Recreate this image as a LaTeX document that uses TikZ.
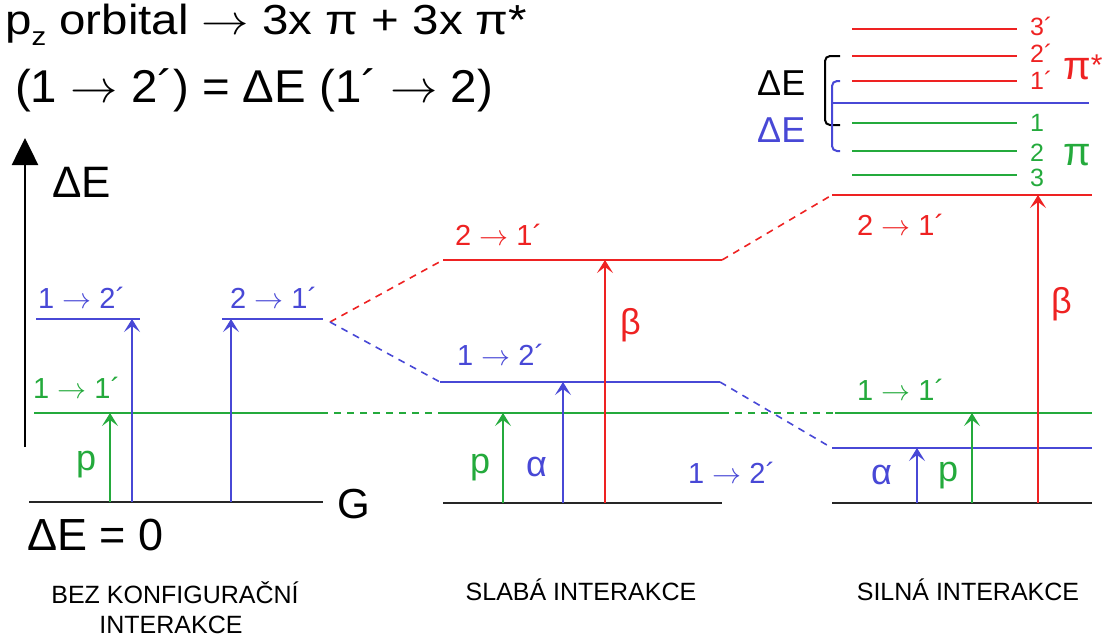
\RequirePackage{fix-cm}
\documentclass[tikz,border=0pt]{standalone}
\usepackage{fontspec}
\setmainfont{Liberation Sans}
\usetikzlibrary{arrows.meta}
\definecolor{cred}{RGB}{238,34,34}
\definecolor{cblue}{RGB}{72,72,214}
\definecolor{cgreen}{RGB}{36,170,60}
\newcommand{\fsz}[1]{\fontsize{#1}{#1}\selectfont}
\newcommand{\ar}{$\rightarrow$}
\begin{document}
\begin{tikzpicture}[x=1pt,y=-1pt,
  lvl/.style={line width=2.2pt},
  gnd/.style={line width=2.8pt,black!85},
  dsh/.style={line width=1.6pt,dash pattern=on 7pt off 6pt},
  tr/.style={line width=2.2pt,-{Stealth[length=13pt,width=16pt,inset=6pt]}},
  txt/.style={inner sep=0pt,anchor=base west},
  lab/.style={txt,font=\fsz{29}},
  grk/.style={txt,font=\fsz{36}},
  sml/.style={txt,font=\fsz{25}},
  captxt/.style={inner sep=0pt,anchor=base,font=\fsz{25}},
  brk/.style={line width=2pt,rounded corners=5pt},
]
\useasboundingbox (0,0) rectangle (1103,638);

% titles
\node[txt,font=\fsz{42}] (t1) at (5,34) {\scalebox{1.13}[1]{p\raisebox{-0.28em}{\fsz{26}z} orbital \ar{} 3x π + 3x π*}};
\node[txt,font=\fsz{46}] (t2) at (15,102) {\scalebox{1.03}[1]{(1 \ar{} 2´) = ΔE (1´ \ar{} 2)}};

% energy axis
\coordinate (axb) at (25,447);
\coordinate (axt) at (25,138);
\draw[line width=2.6pt,-{Triangle[length=27pt,width=26pt]}] (axb) -- (axt);
\node[txt,font=\fsz{44}] (axlab) at (52,197) {ΔE};

% ---------- left panel: no configuration interaction
\coordinate (g1a) at (29,502);   \coordinate (g1b) at (323,502);
\coordinate (b1a) at (36,319);   \coordinate (b1b) at (140,319);
\coordinate (b2a) at (222,319);  \coordinate (b2b) at (323,319);
\coordinate (gr1a) at (34,413);  \coordinate (gr1b) at (321,413);
\draw[gnd] (g1a) -- (g1b);
\draw[lvl,cblue] (b1a) -- (b1b);
\draw[lvl,cblue] (b2a) -- (b2b);
\draw[lvl,cgreen] (gr1a) -- (gr1b);
\node[txt,font=\fsz{42}] (G) at (337,518) {G};
\node[txt,font=\fsz{45}] (dE0) at (27,550) {ΔE = 0};
\node[lab,cblue] (l12a) at (38,308) {1 \ar{} 2´};
\node[lab,cblue] (l21a) at (230,308) {2 \ar{} 1´};
\node[lab,cgreen] (l11a) at (33,398) {1 \ar{} 1´};
\node[grk,cgreen] (pa) at (76,470) {p};
\coordinate (a1s) at (110,502); \coordinate (a1e) at (110,413);
\coordinate (a2s) at (132,502); \coordinate (a2e) at (132,319);
\coordinate (a3s) at (231,502); \coordinate (a3e) at (231,319);
\draw[tr,cgreen] (a1s) -- (a1e);
\draw[tr,cblue] (a2s) -- (a2e);
\draw[tr,cblue] (a3s) -- (a3e);

% ---------- middle panel: weak interaction
\coordinate (g2a) at (443,503);  \coordinate (g2b) at (722,503);
\coordinate (r2a) at (443,260);  \coordinate (r2b) at (722,260);
\coordinate (bl2a) at (440,382); \coordinate (bl2b) at (720,382);
\coordinate (gr2a) at (438,413); \coordinate (gr2b) at (722,413);
\draw[gnd] (g2a) -- (g2b);
\draw[lvl,cred] (r2a) -- (r2b);
\draw[lvl,cblue] (bl2a) -- (bl2b);
\draw[lvl,cgreen] (gr2a) -- (gr2b);
\node[lab,cred] (l21b) at (455,245) {2 \ar{} 1´};
\node[lab,cblue] (l12b) at (457,365) {1 \ar{} 2´};
\node[lab,cblue] (l12c) at (688,483) {1 \ar{} 2´};
\node[grk,cgreen] (pb) at (470,473) {p};
\node[grk,cblue] (alb) at (526,476) {α};
\node[grk,cred] (beb) at (620,334) {β};
\coordinate (b1s) at (503,503); \coordinate (b1e) at (503,413);
\coordinate (b2s) at (563,503); \coordinate (b2e) at (563,382);
\coordinate (b3s) at (605,503); \coordinate (b3e) at (605,260);
\draw[tr,cgreen] (b1s) -- (b1e);
\draw[tr,cblue] (b2s) -- (b2e);
\draw[tr,cred] (b3s) -- (b3e);

% ---------- right panel: strong interaction
\coordinate (g3a) at (832,503);  \coordinate (g3b) at (1092,503);
\coordinate (r3a) at (832,195);  \coordinate (r3b) at (1092,195);
\coordinate (bl3a) at (832,448); \coordinate (bl3b) at (1092,448);
\coordinate (gr3a) at (835,413); \coordinate (gr3b) at (1092,413);
\draw[gnd] (g3a) -- (g3b);
\draw[lvl,cred] (r3a) -- (r3b);
\draw[lvl,cblue] (bl3a) -- (bl3b);
\draw[lvl,cgreen] (gr3a) -- (gr3b);
\node[lab,cred] (l21c) at (857,235) {2 \ar{} 1´};
\node[lab,cgreen] (l11c) at (857,400) {1 \ar{} 1´};
\node[grk,cblue] (alc) at (871,484) {α};
\node[grk,cgreen] (pc) at (938,481) {p};
\node[grk,cred] (bec) at (1051,313) {β};
\coordinate (c1s) at (917,503);  \coordinate (c1e) at (917,448);
\coordinate (c2s) at (972,503);  \coordinate (c2e) at (972,413);
\coordinate (c3s) at (1038,503); \coordinate (c3e) at (1038,195);
\draw[tr,cblue] (c1s) -- (c1e);
\draw[tr,cgreen] (c2s) -- (c2e);
\draw[tr,cred] (c3s) -- (c3e);

% ---------- dashed correlation lines
\coordinate (dl) at (330,322);
\draw[dsh,cred] (dl) -- (r2a);
\draw[dsh,cblue] (dl) -- (bl2a);
\draw[dsh,cgreen] (gr1b) -- (gr2a);
\draw[dsh,cred] (r2b) -- (r3a);
\draw[dsh,cblue] (bl2b) -- (bl3a);
\draw[dsh,cgreen] (gr2b) -- (gr3a);

% ---------- orbital levels (top right)
\coordinate (o3sa) at (852,29);  \coordinate (o3sb) at (1017,29);
\coordinate (o2sa) at (852,56);  \coordinate (o2sb) at (1017,56);
\coordinate (o1sa) at (852,81);  \coordinate (o1sb) at (1017,81);
\coordinate (oba) at (832,103);  \coordinate (obb) at (1089,103);
\coordinate (o1a) at (852,123);  \coordinate (o1b) at (1017,123);
\coordinate (o2a) at (852,151);  \coordinate (o2b) at (1017,151);
\coordinate (o3a) at (852,175);  \coordinate (o3b) at (1017,175);
\draw[lvl,cred] (o3sa) -- (o3sb);
\draw[lvl,cred] (o2sa) -- (o2sb);
\draw[lvl,cred] (o1sa) -- (o1sb);
\draw[lvl,cblue] (oba) -- (obb);
\draw[lvl,cgreen] (o1a) -- (o1b);
\draw[lvl,cgreen] (o2a) -- (o2b);
\draw[lvl,cgreen] (o3a) -- (o3b);
\node[sml,cred] (n3s) at (1030,35) {3´};
\node[sml,cred] (n2s) at (1030,62) {2´};
\node[sml,cred] (n1s) at (1030,89) {1´};
\node[sml,cgreen] (n1) at (1030,131) {1};
\node[sml,cgreen] (n2) at (1030,161) {2};
\node[sml,cgreen] (n3) at (1030,186) {3};
\node[txt,cred,font=\fsz{40}] (pis) at (1063,79) {π\raisebox{4pt}{\fsz{30}*}};
\node[txt,cgreen,font=\fsz{40}] (pi) at (1063,165) {π};
% brackets
\draw[brk] (840,56) -- (825,56) -- (825,125) -- (840,125);
\draw[brk,cblue] (840,81) -- (832,81) -- (832,151) -- (840,151);
\node[txt,font=\fsz{36}] (dEk) at (757,95) {ΔE};
\node[txt,cblue,font=\fsz{36}] (dEb) at (757,142) {ΔE};

% ---------- captions
\node[captxt] (c1) at (175,603) {BEZ KONFIGURAČNÍ};
\node[captxt] (c1b) at (171,633) {INTERAKCE};
\node[captxt] (c2) at (581,600) {SLABÁ INTERAKCE};
\node[captxt] (c3) at (968,600) {SILNÁ INTERAKCE};
\end{tikzpicture}
\end{document}
